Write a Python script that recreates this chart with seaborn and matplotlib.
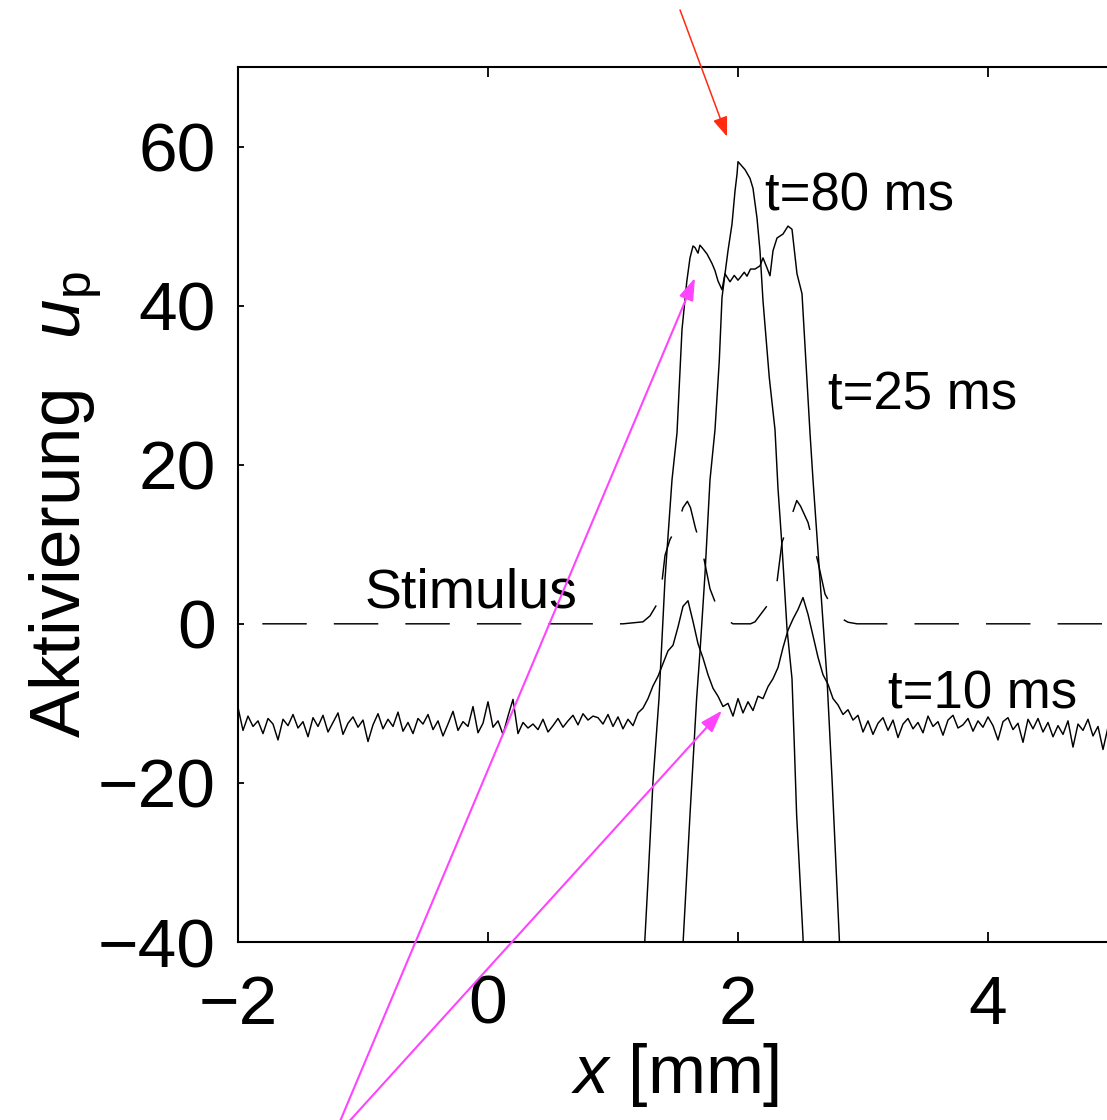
import numpy as np
import pandas as pd
import matplotlib
matplotlib.use('Agg')
import matplotlib.pyplot as plt
import seaborn as sns

# --- data ---------------------------------------------------------------------

# t = 10 ms, sampled every 0.04 mm from x = -2 to x = 5
t10_left = [
    -10.5, -13.4, -11.6, -12.9, -12.2, -13.8, -11.9, -12.6, -14.6, -12.0,
    -12.8, -11.4, -13.1, -12.3, -14.2, -11.8, -12.9, -11.5, -13.6, -12.4,
    -11.2, -13.9, -12.5, -11.7, -13.0, -12.1, -14.8, -12.7, -11.3, -13.2,
    -12.0, -12.9, -11.1, -13.5, -12.4, -13.8, -11.9, -12.6, -11.4, -13.3,
    -12.2, -14.1, -12.6, -11.0, -13.4, -12.3, -12.9, -10.4, -13.7, -12.5,
    -9.8, -13.0, -12.2, -13.9, -11.6, -9.5, -13.8, -12.4, -13.1, -12.6,
    -13.3, -12.0, -13.6, -12.8, -11.9, -13.0, -12.2, -11.5, -12.7, -11.3,
    -12.1, -11.6,
]
t10_mid = [
    -11.8, -12.6, -11.4, -12.9, -11.7, -13.2, -12.0, -12.8, -11.2, -10.6,
    -9.4, -7.8, -6.6, -5.0, -3.4, -2.7, -0.4, 2.2, 2.9, 0.3,
    -2.5, -4.3, -6.4, -8.1, -9.1, -10.4, -10.0, -11.6, -9.4, -11.2,
    -9.8, -10.9, -9.1, -9.4, -7.9, -6.9, -5.5, -3.0, -0.8, 0.6,
    1.8, 3.3, 1.2, -1.5, -4.2, -6.4, -7.6, -9.4, -10.2, -11.4,
    -10.8, -12.1, -11.5, -13.6,
]
t10_right = [
    -12.2, -13.9, -12.5, -11.8, -13.4, -12.1, -14.3, -12.6, -11.9, -13.2,
    -12.4, -13.7, -11.6, -12.9, -12.3, -14.0, -12.1, -11.5, -13.1, -12.7,
    -11.9, -13.5, -12.2, -13.0, -11.7, -12.8, -14.6, -12.3, -11.8, -13.3,
    -12.5, -14.9, -12.0, -13.2, -11.9, -13.6, -12.4, -14.2, -12.8, -13.9,
    -12.2, -15.5, -12.6, -13.4, -12.0, -14.1, -12.9, -15.8, -13.0, -12.4,
]
t10_u = t10_left + t10_mid + t10_right
t10_x = np.linspace(-2.0, 5.0, len(t10_u))

# t = 25 ms
t25_x = [1.22, 1.256, 1.28, 1.32, 1.368, 1.416, 1.472, 1.512, 1.552, 1.59,
         1.616, 1.64, 1.656, 1.68, 1.695, 1.712, 1.752, 1.792, 1.816, 1.84,
         1.872, 1.896, 1.936, 1.97, 2.0, 2.016, 2.05, 2.072, 2.1, 2.136,
         2.176, 2.2, 2.232, 2.256, 2.28, 2.312, 2.36, 2.4, 2.432, 2.472,
         2.512, 2.576, 2.6, 2.656, 2.712, 2.752, 2.81, 2.84]
t25_u = [-50, -39.4, -32.3, -19.8, -9.4, 5.6, 18.1, 24.0, 37.0, 43.0,
         46.0, 47.5, 47.3, 46.6, 47.6, 47.3, 46.5, 45.3, 44.4, 43.1,
         42.0, 44.0, 43.0, 43.8, 43.2, 43.5, 44.2, 43.7, 44.6, 44.6,
         45.0, 46.0, 44.75, 43.75, 46.9, 48.5, 49.0, 50.0, 49.6, 44.0,
         41.5, 24.0, 18.1, 5.6, -6.9, -19.4, -39.4, -50]

# t = 80 ms
t80_x = [1.53, 1.563, 1.616, 1.669, 1.696, 1.735, 1.776, 1.816, 1.85, 1.872,
         1.896, 1.92, 1.952, 1.976, 1.992, 2.0, 2.056, 2.096, 2.12, 2.152,
         2.176, 2.2, 2.25, 2.296, 2.32, 2.352, 2.392, 2.432, 2.45, 2.469,
         2.52, 2.54]
t80_u = [-50, -39.4, -24.0, -9.4, -3.5, 6.0, 18.1, 24.4, 33.0, 41.0,
         44.0, 46.9, 50.25, 54.4, 56.5, 58.1, 57.1, 56.0, 54.75, 51.0,
         46.9, 40.6, 31.0, 24.4, 17.0, 9.75, -0.6, -6.9, -15.0, -24.0,
         -39.4, -50]

# stimulus
stim_x = [-2.0, 1.08, 1.24, 1.296, 1.376, 1.416, 1.456, 1.512, 1.56, 1.595,
          1.62, 1.66, 1.712, 1.776, 1.84, 1.9, 1.96, 2.1, 2.136, 2.232,
          2.312, 2.352, 2.44, 2.47, 2.5, 2.56, 2.64, 2.696, 2.792, 2.88,
          2.952, 5.0]
stim_u = [0, 0, 0.25, 1.0, 3.1, 8.6, 10.6, 12.2, 14.6, 15.4,
          14.6, 12.0, 9.4, 4.4, 1.8, 0.6, 0, 0, 0.25, 2.25,
          5.25, 10.25, 14.1, 15.5, 14.8, 12.75, 7.75, 3.75, 1.0, 0.2,
          0, 0]

x_ticks = [-2, 0, 2, 4]
y_ticks = [-40, -20, 0, 20, 40, 60]


def main():

    sns.set_style('ticks', rc={'text.color': 'black', 'axes.labelcolor': 'black',
                               'axes.edgecolor': 'black', 'xtick.color': 'black',
                               'ytick.color': 'black'})
    plt.rcParams['font.family'] = ['Liberation Sans', 'DejaVu Sans']
    plt.rcParams['mathtext.fontset'] = 'custom'
    plt.rcParams['mathtext.rm'] = 'Liberation Sans'
    plt.rcParams['mathtext.it'] = 'Liberation Sans:italic'
    plt.rcParams['lines.scale_dashes'] = False

    fig = plt.figure(figsize=(11.07, 11.2), dpi=100)
    # square axes, right edge just past the image border
    ax = fig.add_axes([238 / 1107, 178 / 1120, 875 / 1107, 875 / 1120])

    curves = [
        (t10_x, t10_u, '-'),
        (t25_x, t25_u, '-'),
        (t80_x, t80_u, '-'),
        (stim_x, stim_u, (34, (32, 19.5))),
    ]
    for xs, us, ls in curves:
        df = pd.DataFrame({'x': xs, 'u': us})
        sns.lineplot(data=df, x='x', y='u', ax=ax, color='black',
                     lw=1.05, linestyle=ls, estimator=None, sort=False)

    ax.set_xlim(-2, 5)
    ax.set_ylim(-40, 70)
    ax.set_xticks(x_ticks)
    ax.set_yticks(y_ticks)
    for side in ax.spines.values():
        side.set_linewidth(1.5)
    ax.tick_params(direction='in', top=True, right=True, labelsize=50, width=1.3)
    ax.tick_params(axis='x', length=7, pad=23)
    ax.tick_params(axis='y', length=4, pad=16)

    ax.set_xlabel('$x$ [mm]', fontsize=50, labelpad=2)
    ax.set_ylabel('Aktivierung  $\\,u_\\mathrm{p}$', fontsize=51, labelpad=-4)

    # curve labels
    ax.text(2.216, 52, 't=80 ms', fontsize=38, va='baseline')
    ax.text(2.72, 27, 't=25 ms', fontsize=38, va='baseline')
    ax.text(3.2, -10.6, 't=10 ms', fontsize=38, va='baseline')
    ax.text(-0.984, 2.0, 'Stimulus', fontsize=40, va='baseline')

    # annotation arrows
    ax.annotate('', xy=(1.912, 61.25), xycoords='data',
                xytext=(0.6143, 0.9911), textcoords='figure fraction',
                annotation_clip=False,
                arrowprops=dict(arrowstyle='-|>,head_length=0.8,head_width=0.3',
                                color='#ff2a10', lw=1.1, mutation_scale=15,
                                shrinkA=0, shrinkB=0))
    for head in [(1.656, 43.5), (1.872, -10.9)]:
        ax.annotate('', xy=head, xycoords='data',
                    xytext=(0.30, -0.018), textcoords='figure fraction',
                    annotation_clip=False,
                    arrowprops=dict(arrowstyle='-|>,head_length=0.9,head_width=0.3',
                                    color='#ff44ff', lw=1.5, mutation_scale=15,
                                    shrinkA=0, shrinkB=0))

    plt.savefig('out.png', dpi=100)
    plt.close()


if __name__ == '__main__':
    main()
